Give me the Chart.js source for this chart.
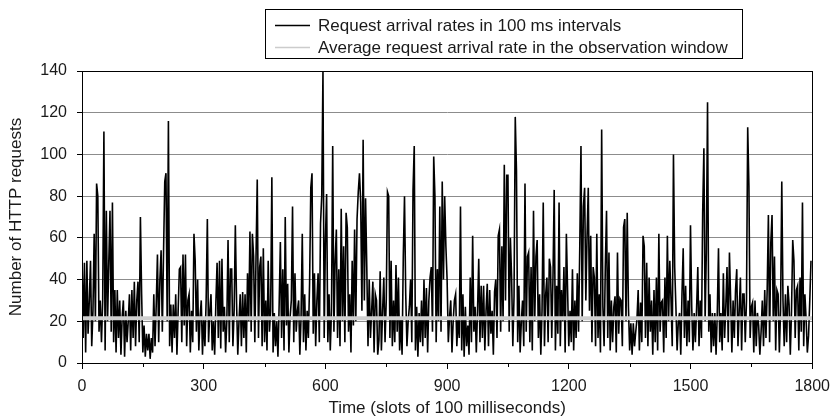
<!DOCTYPE html>
<html><head><meta charset="utf-8">
<script src="https://cdn.jsdelivr.net/npm/chart.js@4.4.1/dist/chart.umd.min.js"></script>
<style>html,body{margin:0;padding:0;background:#fff}canvas{display:block}</style>
</head><body>
<canvas id="c" width="838" height="420"></canvas>
<script>
// ---- data ----
const seriesLabel = 'Request arrival rates in 100 ms intervals';
const averageLabel = 'Average request arrival rate in the observation window';
const xTitle = 'Time (slots of 100 milliseconds)';
const yTitle = 'Number of HTTP requests';
const slotStep = 3; // one sampled value every 3 slots
const rateValues = [
  52,12,48,5,49,14,30,49,8,25, 62,20,86,80,15,30,10,30,111,6, 73,20,48,73,15,77,10,35,5,35, 12,30,4,22,30,3,25,10,20,33, 6,35,12,39,8,30,39,10,70,33,
  5,18,3,14,6,14,2,12,5,33, 8,28,52,10,40,54,15,53,87,91, 20,116,8,28,5,28,12,33,4,25, 45,46,10,52,18,52,8,30,33,5, 25,10,62,49,15,40,6,22,30,4,
  22,8,30,69,10,25,33,6,20,4, 29,48,12,49,7,50,15,27,5,20, 59,10,45,45,8,25,66,29,4,20, 33,8,34,12,33,5,43,20,63,15, 62,51,10,51,88,12,46,51,8,55,
  10,30,6,49,15,25,89,5,24,8, 20,3,28,58,12,45,6,70,18,38, 5,22,30,75,10,43,15,25,30,4, 22,62,10,33,6,25,12,38,84,91, 14,43,8,30,43,10,67,80,140,12,
  59,81,10,33,6,25,104,15,49,64, 12,45,8,74,20,56,10,72,65,15, 33,5,49,18,64,20,69,82,91,77, 25,107,30,79,46,8,40,12,25,39, 5,33,30,4,11,44,6,25,41,10,
  30,82,80,12,49,8,30,10,47,15, 41,6,21,4,51,80,33,8,20,27, 40,10,83,104,6,27,3,24,10,30, 8,40,12,36,5,30,41,46,15,99, 80,10,45,20,75,15,87,40,80,56,
  40,10,22,30,5,20,30,33,8,22, 12,75,6,33,3,27,8,18,4,41, 10,61,15,27,5,25,50,10,37,12, 37,6,25,38,8,35,14,25,4,34, 40,12,61,64,15,56,20,95,30,90,
  90,15,60,41,8,32,118,92,10,37, 5,20,30,8,86,15,51,53,10,46, 6,73,20,51,59,12,33,4,25,77, 8,33,41,10,50,46,12,41,83,6, 37,14,77,8,35,20,46,5,62,35,
  8,25,10,45,6,30,12,43,15,55, 104,20,75,84,30,61,84,25,61,10, 46,41,8,62,12,33,5,112,27,8, 46,73,12,53,6,30,10,27,32,5, 53,14,31,30,8,65,69,20,72,27,
  6,19,4,19,8,15,21,35,6,29, 10,61,56,12,48,8,41,15,30,4, 35,10,41,6,62,15,29,30,5,41, 12,61,20,49,30,8,100,46,27,6, 20,24,4,33,55,12,37,8,30,10,
  66,27,6,24,10,26,46,8,30,12, 72,103,20,53,125,15,33,5,24,8, 24,4,24,55,10,24,6,43,12,27, 46,10,53,30,5,30,12,35,45,8, 25,41,6,33,33,10,30,113,85,12,
  27,29,5,30,8,24,18,4,15,30, 8,35,12,35,71,10,58,71,20,51, 6,35,33,5,25,87,30,8,33,10, 37,28,4,25,59,49,12,35,37,6, 41,15,77,8,33,21,5,13,30,49
];
const averageRate = 21.5;
const xRange = [0, 1800];
const xMajorTicks = [0, 300, 600, 900, 1200, 1500, 1800];
const xMinorTicks = [150, 450, 750, 1050, 1350, 1650];
const yTicks = [0, 20, 40, 60, 80, 100, 120, 140];

// ---- chart ----
const FONT = '"Liberation Sans", Arial, sans-serif';
const TEXT = '#1a1a1a';
const slots = rateValues.map((v, i) => i * slotStep);

const framePlugin = {
  id: 'frame',
  afterDatasetsDraw(chart) {
    const {ctx, chartArea: a, scales} = chart;
    ctx.save();
    ctx.strokeStyle = '#000';
    ctx.lineWidth = 1;
    ctx.strokeRect(Math.round(a.left) + 0.5, Math.round(a.top) + 0.5,
                   Math.round(a.right - a.left), Math.round(a.bottom - a.top));
    ctx.beginPath();
    xMinorTicks.forEach(v => {
      const x = Math.round(scales.x.getPixelForValue(v)) + 0.5;
      ctx.moveTo(x, Math.round(a.bottom));
      ctx.lineTo(x, Math.round(a.bottom) + 4);
    });
    ctx.stroke();
    ctx.restore();
  }
};

const legendPlugin = {
  id: 'boxLegend',
  afterDraw(chart) {
    const ctx = chart.ctx;
    const ds = chart.data.datasets;
    const box = {x: 265, y: 9, w: 477, h: 49};
    ctx.save();
    ctx.fillStyle = '#fff';
    ctx.fillRect(box.x, box.y, box.w, box.h);
    ctx.strokeStyle = '#000';
    ctx.lineWidth = 1;
    ctx.strokeRect(box.x + 0.5, box.y + 0.5, box.w, box.h);
    [ds[0], ds[1]].forEach((d, i) => {
      const y = 25 + i * 22;
      ctx.strokeStyle = d.legendColor;
      ctx.lineWidth = d.legendWidth;
      ctx.beginPath();
      ctx.moveTo(275, y + 0.5);
      ctx.lineTo(310, y + 0.5);
      ctx.stroke();
      ctx.fillStyle = TEXT;
      ctx.font = '17px ' + FONT;
      ctx.textBaseline = 'middle';
      ctx.textAlign = 'left';
      ctx.fillText(d.label, 318, y + 1);
    });
    ctx.restore();
  }
};

new Chart(document.getElementById('c').getContext('2d'), {
  type: 'line',
  data: {
    labels: slots,
    datasets: [
      {label: seriesLabel, data: rateValues, borderColor: '#000', borderWidth: 1.6,
       pointRadius: 0, tension: 0, order: 2, legendColor: '#000', legendWidth: 1.5},
      {label: averageLabel, data: [{x: xRange[0], y: averageRate}, {x: xRange[1], y: averageRate}],
       borderColor: '#cfcfcf', borderWidth: 4, pointRadius: 0, order: 1,
       legendColor: '#cccccc', legendWidth: 1.5}
    ]
  },
  options: {
    responsive: false, animation: false, devicePixelRatio: 1,
    layout: {padding: {top: 71, right: 22, bottom: 0, left: 0}},
    plugins: {legend: {display: false}, tooltip: {enabled: false}},
    scales: {
      x: {
        type: 'linear', min: xRange[0], max: xRange[1],
        afterBuildTicks: s => { s.ticks = xMajorTicks.map(v => ({value: v})); },
        ticks: {font: {family: FONT, size: 16}, color: TEXT, padding: 8, maxRotation: 0, autoSkip: false,
                callback: v => String(v)},
        grid: {drawOnChartArea: false, tickLength: 6, tickColor: '#000', color: '#000'},
        border: {color: '#000', width: 1},
        title: {display: true, text: xTitle, color: TEXT, font: {family: FONT, size: 17}, padding: {top: 0, bottom: 1}},
        afterFit: s => { s.height = 57; }
      },
      y: {
        min: 0, max: 140,
        afterBuildTicks: s => { s.ticks = yTicks.map(v => ({value: v})); },
        ticks: {font: {family: FONT, size: 16}, color: TEXT, padding: 10, callback: v => String(v)},
        grid: {color: c => (c.tick && (c.tick.value === 0 || c.tick.value === 140)) ? '#000' : '#8c8c8c',
               tickLength: 5, tickColor: '#000', lineWidth: 1},
        border: {color: '#000', width: 1},
        title: {display: true, text: yTitle, color: TEXT, font: {family: FONT, size: 17}, padding: {top: 6, bottom: 0}},
        afterFit: s => { s.width = 82; }
      }
    }
  },
  plugins: [framePlugin, legendPlugin]
});
</script>
</body></html>
